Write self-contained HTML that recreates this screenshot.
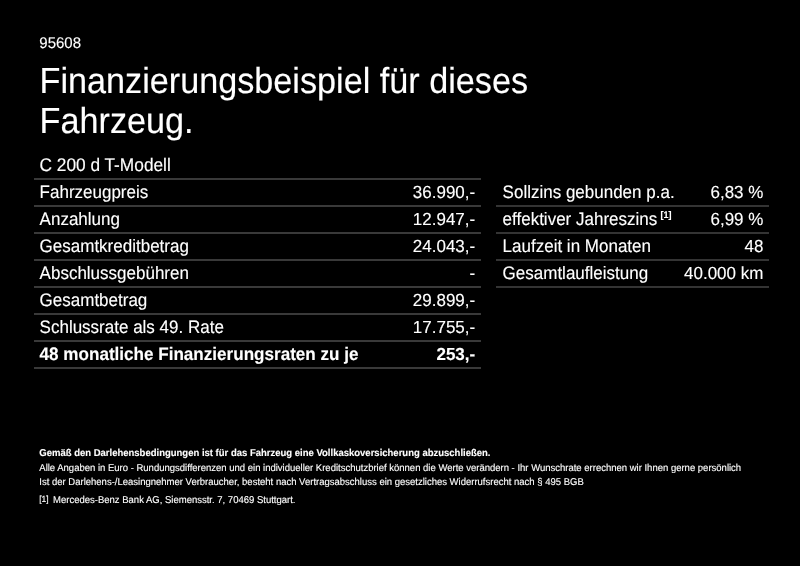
<!DOCTYPE html>
<html lang="de">
<head>
<meta charset="utf-8">
<title>Finanzierungsbeispiel</title>
<style>
html,body{margin:0;padding:0;background:#000;}
body{width:800px;height:566px;position:relative;overflow:hidden;color:#fff;font-family:"Liberation Sans",Arial,Helvetica,sans-serif;}
.t{position:absolute;white-space:nowrap;line-height:1;text-rendering:geometricPrecision;-webkit-text-stroke:0.12px #fff;}
.b{font-weight:bold;}
.ln{position:absolute;height:2px;background:#393939;}
.sup{font-size:9px;position:relative;top:-7px;left:-1.5px;font-weight:bold;}
.fn{display:inline-block;width:13.9px;font-size:8.5px;position:relative;top:-1px;}
</style>
</head>
<body>
<div class="t " style="left:39.30px;top:35.80px;font-size:15px;transform:scaleY(1.03);transform-origin:0 84.65%;">95608</div>
<div class="t " style="left:39.60px;top:65.05px;font-size:34.2px;transform:scaleY(1.06);transform-origin:0 84.65%;">Finanzierungsbeispiel für dieses</div>
<div class="t " style="left:39.60px;top:105.05px;font-size:34.2px;transform:scaleY(1.06);transform-origin:0 84.65%;">Fahrzeug.</div>
<div class="t " style="left:39.50px;top:156.76px;font-size:17.3px;transform:scaleY(1.06);transform-origin:0 84.65%;">C 200 d T-Modell</div>
<div class="ln" style="left:34px;width:447px;top:178px;background:#393939"></div>
<div class="t " style="left:39.60px;top:184.11px;font-size:17px;transform:scaleY(1.06);transform-origin:0 84.65%;">Fahrzeugpreis</div>
<div class="t " style="right:324.80px;top:184.11px;font-size:17px;transform:scaleY(1.03);transform-origin:100% 84.65%;">36.990,-</div>
<div class="ln" style="left:34px;width:447px;top:205px;background:#393939"></div>
<div class="t " style="left:39.60px;top:211.11px;font-size:17px;transform:scaleY(1.06);transform-origin:0 84.65%;">Anzahlung</div>
<div class="t " style="right:324.80px;top:211.11px;font-size:17px;transform:scaleY(1.03);transform-origin:100% 84.65%;">12.947,-</div>
<div class="ln" style="left:34px;width:447px;top:232px;background:#393939"></div>
<div class="t " style="left:39.60px;top:238.11px;font-size:17px;transform:scaleY(1.06);transform-origin:0 84.65%;">Gesamtkreditbetrag</div>
<div class="t " style="right:324.80px;top:238.11px;font-size:17px;transform:scaleY(1.03);transform-origin:100% 84.65%;">24.043,-</div>
<div class="ln" style="left:34px;width:447px;top:259px;background:#393939"></div>
<div class="t " style="left:39.60px;top:265.11px;font-size:17px;transform:scaleY(1.06);transform-origin:0 84.65%;">Abschlussgebühren</div>
<div class="t " style="right:324.80px;top:265.11px;font-size:17px;transform:scaleY(1.03);transform-origin:100% 84.65%;">-</div>
<div class="ln" style="left:34px;width:447px;top:286px;background:#393939"></div>
<div class="t " style="left:39.60px;top:292.11px;font-size:17px;transform:scaleY(1.06);transform-origin:0 84.65%;">Gesamtbetrag</div>
<div class="t " style="right:324.80px;top:292.11px;font-size:17px;transform:scaleY(1.03);transform-origin:100% 84.65%;">29.899,-</div>
<div class="ln" style="left:34px;width:447px;top:313px;background:#393939"></div>
<div class="t " style="left:39.60px;top:319.11px;font-size:17px;transform:scaleY(1.06);transform-origin:0 84.65%;">Schlussrate als 49. Rate</div>
<div class="t " style="right:324.80px;top:319.11px;font-size:17px;transform:scaleY(1.03);transform-origin:100% 84.65%;">17.755,-</div>
<div class="ln" style="left:34px;width:447px;top:340px;background:#393939"></div>
<div class="t b" style="left:39.60px;top:346.04px;font-size:17.08px;transform:scaleY(1.06);transform-origin:0 84.65%;">48 monatliche Finanzierungsraten zu je</div>
<div class="t b" style="right:324.80px;top:346.11px;font-size:17px;transform:scaleY(1.03);transform-origin:100% 84.65%;">253,-</div>
<div class="ln" style="left:34px;width:447px;top:367px;background:#393939"></div>
<div class="t " style="left:502.60px;top:184.11px;font-size:17px;transform:scaleY(1.06);transform-origin:0 84.65%;">Sollzins gebunden p.a.</div>
<div class="t " style="right:36.60px;top:184.11px;font-size:17px;transform:scaleY(1.03);transform-origin:100% 84.65%;">6,83 %</div>
<div class="ln" style="left:496px;width:273px;top:205px;background:#343434"></div>
<div class="t " style="left:502.60px;top:211.11px;font-size:17px;transform:scaleY(1.06);transform-origin:0 84.65%;">effektiver Jahreszins <span class="sup">[1]</span></div>
<div class="t " style="right:36.60px;top:211.11px;font-size:17px;transform:scaleY(1.03);transform-origin:100% 84.65%;">6,99 %</div>
<div class="ln" style="left:496px;width:273px;top:232px;background:#343434"></div>
<div class="t " style="left:502.60px;top:238.11px;font-size:17px;transform:scaleY(1.06);transform-origin:0 84.65%;">Laufzeit in Monaten</div>
<div class="t " style="right:36.60px;top:238.11px;font-size:17px;transform:scaleY(1.03);transform-origin:100% 84.65%;">48</div>
<div class="ln" style="left:496px;width:273px;top:259px;background:#343434"></div>
<div class="t " style="left:502.60px;top:265.11px;font-size:17px;transform:scaleY(1.06);transform-origin:0 84.65%;">Gesamtlaufleistung</div>
<div class="t " style="right:36.60px;top:265.11px;font-size:17px;transform:scaleY(1.03);transform-origin:100% 84.65%;">40.000 km</div>
<div class="ln" style="left:496px;width:273px;top:286px;background:#343434"></div>
<div class="t b" style="left:39.30px;top:448.75px;font-size:9.51px;transform:scaleY(1.04);transform-origin:0 84.65%;">Gemäß den Darlehensbedingungen ist für das Fahrzeug eine Vollkaskoversicherung abzuschließen.</div>
<div class="t " style="left:39.30px;top:464.15px;font-size:9.51px;transform:scaleY(1.04);transform-origin:0 84.65%;">Alle Angaben in Euro - Rundungsdifferenzen und ein individueller Kreditschutzbrief können die Werte verändern - Ihr Wunschrate errechnen wir Ihnen gerne persönlich</div>
<div class="t " style="left:39.30px;top:477.85px;font-size:9.51px;transform:scaleY(1.04);transform-origin:0 84.65%;">Ist der Darlehens-/Leasingnehmer Verbraucher, besteht nach Vertragsabschluss ein gesetzliches Widerrufsrecht nach § 495 BGB</div>
<div class="t " style="left:39.20px;top:496.25px;font-size:9.51px;transform:scaleY(1.04);transform-origin:0 84.65%;"><span class="fn">[1]</span>Mercedes-Benz Bank AG, Siemensstr. 7, 70469 Stuttgart.</div>
</body>
</html>
